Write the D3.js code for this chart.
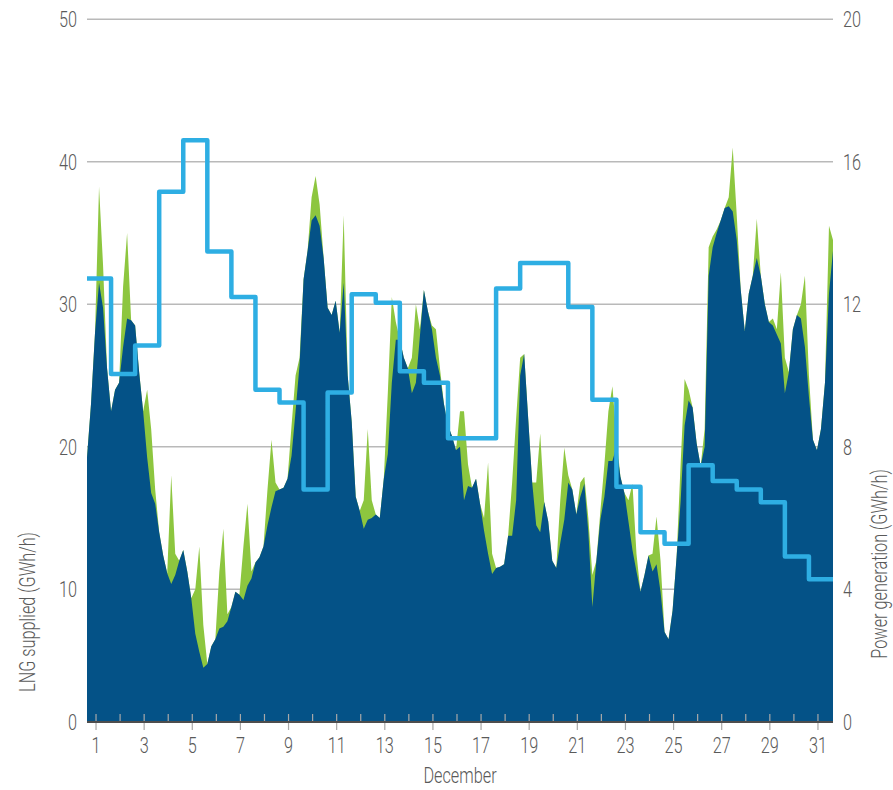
<!DOCTYPE html>
<html>
<head>
<meta charset="utf-8">
<script src="https://cdn.jsdelivr.net/npm/d3@7"></script>
<style>
  html, body { margin: 0; padding: 0; background: #fff; }
  svg text { font-family: Roboto, "Noto Sans", "DejaVu Sans", sans-serif; font-weight: 300; fill: #5a5a5a; }
</style>
</head>
<body>
<svg id="chart" width="893" height="790"></svg>
<script>
// December days shown on the axis
const days = d3.range(1, 32);
const dayLabels = days.filter(d => d % 2 === 1);

// Daily LNG supplied, GWh/h (left axis), one value per day 1..31
const lngSupplied = [
  31.8, 25.1, 27.1, 37.9, 41.5, 33.7, 30.5, 24.0, 23.1, 17.0,
  23.8, 30.7, 30.1, 25.3, 24.5, 20.6, 20.6, 31.1, 32.9, 32.9,
  29.8, 23.3, 17.2, 14.0, 13.2, 18.7, 17.6, 17.0, 16.1, 12.3,
  10.7
];

// Power generation, GWh/h (right axis), every 4 hours from the start of Dec 1
const generation = [
  7.7, 9.2, 11.2, 12.6, 11.9, 10.2,
  9.0, 9.6, 9.8, 10.8, 11.6, 11.55,
  11.4, 10.1, 9.0, 7.7, 6.7, 6.4,
  5.6, 4.95, 4.45, 4.15, 4.4, 4.8,
  5.1, 4.5, 3.75, 2.75, 2.25, 1.8,
  1.9, 2.4, 2.6, 2.9, 2.95, 3.1,
  3.5, 3.93, 3.85, 3.7, 4.1, 4.3,
  4.75, 4.9, 5.2, 5.8, 6.3, 6.75,
  6.8, 6.85, 7.1, 7.75, 9.0, 10.3,
  12.7, 13.5, 14.35, 14.5, 14.2, 13.3,
  11.9, 11.7, 12.1, 11.2, 12.6, 10.0,
  8.7, 6.6, 6.2, 5.7, 5.95, 6.0,
  6.1, 6.0, 7.1, 7.8, 9.8, 11.0,
  11.0, 10.5, 10.2, 9.5, 9.8, 11.1,
  12.4, 11.8, 11.3, 10.5, 10.0, 9.2,
  8.6, 8.3, 7.9, 8.0, 6.5, 6.9,
  6.85, 7.1, 6.4, 5.64, 5.0, 4.43,
  4.6, 4.63, 4.7, 5.5, 5.5, 6.5,
  10.0, 10.6, 8.8, 7.0, 5.8, 5.6,
  6.45, 5.9, 4.8, 4.6, 5.3, 5.95,
  7.0, 6.8, 6.1, 6.6, 6.96, 5.6,
  3.5, 4.8, 5.95, 6.6, 7.6, 7.6,
  8.0, 7.16, 6.7, 5.9, 5.1, 4.5,
  3.93, 4.4, 4.95, 4.5, 4.7, 3.93,
  2.8, 2.6, 3.4, 4.9, 6.45, 8.6,
  9.3, 9.1, 8.1, 7.46, 8.0, 12.8,
  13.6, 14.0, 14.35, 14.7, 14.75, 14.6,
  13.8, 12.4, 11.25, 12.3, 12.8, 13.3,
  12.8, 12.0, 11.5, 11.4, 11.15, 10.9,
  9.5, 10.1, 11.3, 11.7, 11.6, 10.8,
  9.4, 8.2, 7.9, 8.5, 9.8, 12.3,
  13.5
];

// Peak generation within each 4-hour slot, GWh/h (right axis)
const generationPeak = [
  7.7, 9.2, 11.2, 15.3, 13.1, 10.2,
  9.0, 9.6, 9.8, 12.5, 14.0, 11.55,
  11.4, 10.1, 9.0, 9.6, 8.5, 6.8,
  5.6, 4.95, 4.45, 7.2, 5.0, 4.8,
  5.1, 4.5, 3.75, 4.0, 5.2, 3.0,
  1.9, 2.4, 2.6, 4.5, 5.7, 3.3,
  3.5, 3.93, 3.85, 5.2, 6.4, 4.5,
  4.75, 4.9, 5.2, 6.8, 8.2, 7.0,
  6.8, 6.85, 7.1, 8.6, 10.0, 10.5,
  12.7, 13.5, 15.0, 15.6, 14.8, 13.3,
  11.9, 11.7, 12.1, 11.2, 14.5, 10.0,
  8.7, 6.6, 6.2, 6.5, 8.5, 6.5,
  6.1, 6.0, 7.1, 9.5, 12.2, 11.5,
  11.0, 10.5, 10.2, 10.5, 12.0, 11.3,
  12.4, 11.8, 11.4, 11.3, 10.2, 9.2,
  8.6, 8.3, 7.9, 9.0, 9.0, 7.5,
  6.85, 7.1, 6.4, 6.0, 7.56, 5.0,
  4.6, 4.63, 4.7, 5.5, 7.0, 8.8,
  10.5, 10.6, 8.8, 7.0, 7.0, 8.37,
  6.45, 5.9, 4.8, 4.6, 6.5, 7.97,
  7.2, 6.8, 6.1, 7.0, 7.16, 6.0,
  4.4, 4.8, 6.2, 7.5, 9.0, 9.7,
  8.3, 7.16, 6.7, 6.5, 6.96, 5.0,
  3.93, 4.4, 4.95, 5.0, 6.04, 4.8,
  2.8, 2.6, 3.4, 4.9, 7.5, 9.9,
  9.6, 9.1, 8.1, 7.46, 8.5, 13.6,
  13.9, 14.1, 14.35, 14.7, 15.0, 16.4,
  14.5, 12.4, 11.25, 12.3, 12.8, 14.4,
  12.8, 12.0, 11.5, 11.6, 11.3, 12.9,
  10.5, 10.1, 11.3, 11.7, 12.0, 12.8,
  10.0, 8.2, 7.9, 8.5, 9.8, 14.2,
  13.8
];

const leftTicks = [0, 10, 20, 30, 40, 50];
const rightTicks = [0, 4, 8, 12, 16, 20];

const svg = d3.select("#chart");
const plotLeft = 87, plotRight = 833, baseY = 722;
const fontSize = 22, narrow = 0.74;

// Day scale: each integer day tick sits a little into its day
const x = d3.scaleLinear().domain([0.625, 31.625]).range([plotLeft, plotRight]);
const yL = d3.scaleLinear().domain([0, 50]).range([731.8, 19.2]);
const yR = d3.scaleLinear().domain([0, 20]).range([731.8, 19.2]);

const slotsPerDay = 6;
const slotX = i => x(0.625 + i / slotsPerDay);

// Condensed label helper
function label(g, tx, ty, str, anchor, rotate) {
  return g.append("text")
    .attr("transform", `translate(${tx},${ty})` + (rotate ? " rotate(-90)" : "") + ` scale(${narrow},1)`)
    .attr("text-anchor", anchor)
    .attr("font-size", fontSize)
    .text(str);
}

svg.append("defs").append("clipPath").attr("id", "plotClip")
  .append("rect").attr("x", plotLeft).attr("y", 0)
  .attr("width", plotRight - plotLeft).attr("height", baseY);

// Horizontal gridlines
svg.append("g").selectAll("line")
  .data(leftTicks.filter(t => t > 0))
  .join("line")
  .attr("x1", plotLeft).attr("x2", plotRight)
  .attr("y1", d => yL(d)).attr("y2", d => yL(d))
  .attr("stroke", "#b9b9b9").attr("stroke-width", 1.5);

const plot = svg.append("g").attr("clip-path", "url(#plotClip)");

// Peak generation (green) under the base generation (dark blue)
plot.append("path")
  .datum(generationPeak)
  .attr("fill", "#8dc63f")
  .attr("d", d3.area().x((d, i) => slotX(i)).y0(baseY + 10).y1(d => yR(d)));

plot.append("path")
  .datum(generation)
  .attr("fill", "#045287")
  .attr("d", d3.area().x((d, i) => slotX(i)).y0(baseY + 10).y1(d => yR(d)));

// Daily LNG supplied as a step line
const stepData = lngSupplied.map((v, i) => [days[i] - 0.375, v]);
stepData.push([31.625, lngSupplied[lngSupplied.length - 1]]);
plot.append("path")
  .datum(stepData)
  .attr("fill", "none")
  .attr("stroke", "#2eaee3")
  .attr("stroke-width", 4.5)
  .attr("stroke-linejoin", "round")
  .attr("d", d3.line().x(d => x(d[0])).y(d => yL(d[1])).curve(d3.curveStepAfter));

// X axis baseline and day ticks
const xAxis = svg.append("g");
xAxis.selectAll("line.tick")
  .data(days)
  .join("line")
  .attr("x1", d => x(d)).attr("x2", d => x(d))
  .attr("y1", baseY - 8)
  .attr("y2", d => d % 2 === 1 ? baseY + 8 : baseY)
  .attr("stroke", "#a8a8a8").attr("stroke-width", 1.2);
xAxis.append("line")
  .attr("x1", plotLeft).attr("x2", plotRight)
  .attr("y1", baseY).attr("y2", baseY)
  .attr("stroke", "#4d4d4d").attr("stroke-width", 2);
dayLabels.forEach(d => label(xAxis, x(d), baseY + 31, d, "middle"));
label(svg, (plotLeft + plotRight) / 2, 783, "December", "middle");

// Left axis labels
const gl = svg.append("g");
leftTicks.forEach(d => label(gl, 77, (d === 0 ? baseY : yL(d)) + 8, d, "end"));

// Right axis labels
const gr = svg.append("g");
rightTicks.forEach(d => label(gr, 843, (d === 0 ? baseY : yR(d)) + 8, d, "start"));

// Axis titles
label(svg, 35, 612, "LNG supplied (GWh/h)", "middle", true);
label(svg, 887, 564, "Power generation (GWh/h)", "middle", true);
</script>
</body>
</html>
